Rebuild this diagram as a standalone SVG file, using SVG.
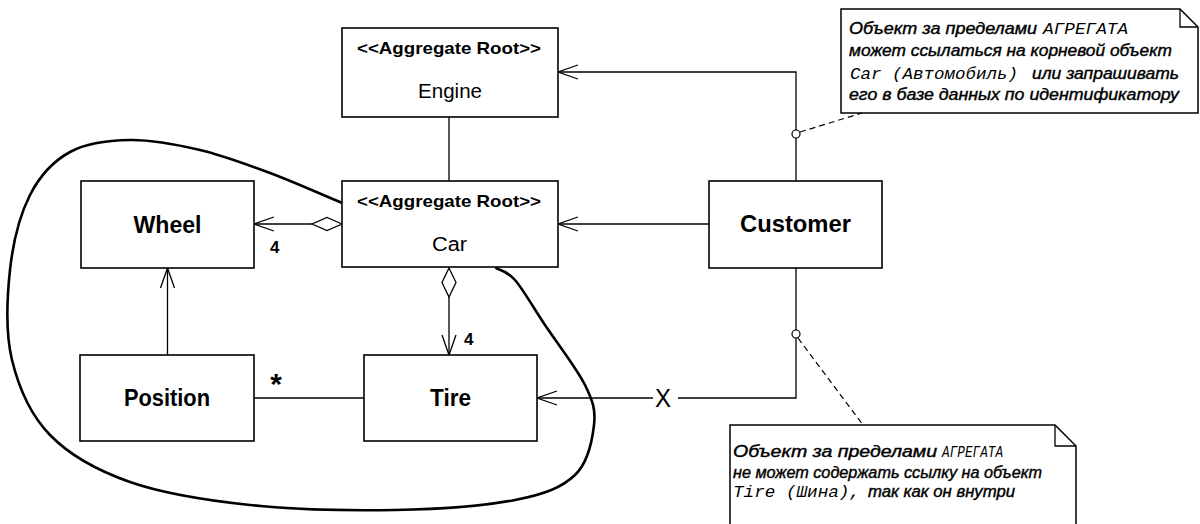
<svg xmlns="http://www.w3.org/2000/svg" width="1200" height="524" viewBox="0 0 1200 524">
<defs>
<marker id="open" markerUnits="userSpaceOnUse" markerWidth="24" markerHeight="18" viewBox="-22 -9 24 18" refX="0" refY="0" orient="auto">
<path d="M-20,-7 L0,0 L-20,7" fill="none" stroke="#000" stroke-width="1.3"/>
</marker>
</defs>
<style>
.box{fill:#fff;stroke:#000;stroke-width:1.6}
.ln{fill:none;stroke:#000;stroke-width:1.3}
.dash{fill:none;stroke:#000;stroke-width:1.2;stroke-dasharray:6 4}
.note{fill:#fff;stroke:#000;stroke-width:1.5}
.st{font-family:"Liberation Sans",Arial,sans-serif;font-weight:bold;font-size:17px;text-anchor:middle}
.nm{font-family:"Liberation Sans",Arial,sans-serif;font-size:20px;text-anchor:middle}
.bd{font-family:"Liberation Sans",Arial,sans-serif;font-weight:bold;font-size:23px;text-anchor:middle}
.mul{font-family:"Liberation Sans",Arial,sans-serif;font-weight:bold;font-size:17px}
.ns{font-family:"Liberation Sans",Arial,sans-serif;font-style:italic;font-size:16px;stroke:#000;stroke-width:0.4}
.nmono{font-family:"Liberation Mono","Courier New",monospace;font-style:italic;font-size:16px}
</style>
<rect width="1200" height="524" fill="#fff"/>

<path id="aggregate-boundary" d="M342,203 C330,198 293.7,181.8 270,173 C246.3,164.2 223.3,155.5 200,150 C176.7,144.5 151.7,139.7 130,140 C108.3,140.3 86.7,142.8 70,152 C53.3,161.2 40,175.3 30,195 C20,214.7 13,242.5 10,270 C7,297.5 5.3,332.5 12,360 C18.7,387.5 30.3,414.7 50,435 C69.7,455.3 96.7,470.3 130,482 C163.3,493.7 205.8,500.3 250,505 C294.2,509.7 350.8,510.8 395,510 C439.2,509.2 485,505.8 515,500 C545,494.2 561.8,487.5 575,475 C588.2,462.5 592.3,440 594,425 C595.7,410 593.2,401.7 585,385 C576.8,368.3 556.7,342.5 545,325 C533.3,307.5 523.2,289.5 515,280 C506.8,270.5 499.2,270 496,268" fill="none" stroke="#000" stroke-width="2.6" stroke-linecap="round"/>

<g id="connectors">
<line class="ln" x1="449" y1="117" x2="449" y2="181"/>
<polyline class="ln" points="796,181 796,72 558,72" marker-end="url(#open)"/>
<line class="ln" x1="709" y1="224" x2="558" y2="224" marker-end="url(#open)"/>
<polyline class="ln" points="796,268 796,398 678,398"/>
<line class="ln" x1="653" y1="398" x2="537" y2="398" marker-end="url(#open)"/>
<text x="663" y="407" font-family="Liberation Sans, Arial, sans-serif" font-size="26" text-anchor="middle" textLength="16" lengthAdjust="spacingAndGlyphs">X</text>
<polygon class="box" style="stroke-width:1.3" points="342,224 327,217.5 312,224 327,230.5"/>
<line class="ln" x1="312" y1="224" x2="254" y2="224" marker-end="url(#open)"/>
<text class="mul" x="270" y="253">4</text>
<polygon class="box" style="stroke-width:1.3" points="449,268 456,282.5 449,297 442,282.5"/>
<line class="ln" x1="449" y1="297" x2="449" y2="355" marker-end="url(#open)"/>
<text class="mul" x="464" y="345">4</text>
<line class="ln" x1="167.5" y1="355" x2="167.5" y2="268" marker-end="url(#open)"/>
<line class="ln" x1="254" y1="398" x2="364" y2="398"/>
<text x="276" y="394" font-family="Liberation Sans, Arial, sans-serif" font-weight="bold" font-size="30" text-anchor="middle">*</text>
<line class="dash" x1="800" y1="132" x2="862" y2="113"/>
<line class="dash" x1="798" y1="338" x2="863" y2="425"/>
<circle cx="796" cy="134" r="4" fill="#fff" stroke="#000" stroke-width="1.2"/>
<circle cx="796" cy="334" r="4" fill="#fff" stroke="#000" stroke-width="1.2"/>
</g>

<g id="engine">
<rect class="box" x="342" y="28" width="216" height="89"/>
<text class="st" x="449" y="54" textLength="184" lengthAdjust="spacingAndGlyphs">&lt;&lt;Aggregate Root&gt;&gt;</text>
<text class="nm" x="450" y="98" textLength="64" lengthAdjust="spacingAndGlyphs">Engine</text>
</g>

<g id="car">
<rect class="box" x="342" y="181" width="216" height="86"/>
<text class="st" x="449" y="207" textLength="184" lengthAdjust="spacingAndGlyphs">&lt;&lt;Aggregate Root&gt;&gt;</text>
<text class="nm" x="449.5" y="251" textLength="35" lengthAdjust="spacingAndGlyphs">Car</text>
</g>

<g id="wheel">
<rect class="box" x="81" y="181" width="173" height="87"/>
<text class="bd" x="167.5" y="233" textLength="68" lengthAdjust="spacingAndGlyphs">Wheel</text>
</g>

<g id="position">
<rect class="box" x="80" y="355" width="174" height="86"/>
<text class="bd" x="167" y="406" textLength="86" lengthAdjust="spacingAndGlyphs">Position</text>
</g>

<g id="tire">
<rect class="box" x="364" y="355" width="173" height="86"/>
<text class="bd" x="450.5" y="406" textLength="41" lengthAdjust="spacingAndGlyphs">Tire</text>
</g>

<g id="customer">
<rect class="box" x="709" y="181" width="173" height="87"/>
<text class="bd" x="795.5" y="232" textLength="111" lengthAdjust="spacingAndGlyphs">Customer</text>
</g>

<g id="note-root">
<path class="note" d="M841,9 H1180 L1198,27 V113 H841 Z"/>
<path class="ln" d="M1180,9 V27 H1198"/>
<text class="ns" x="849" y="34" textLength="188" lengthAdjust="spacingAndGlyphs">Объект за пределами</text>
<text class="nmono" x="1043" y="34" textLength="85" lengthAdjust="spacingAndGlyphs">АГРЕГАТА</text>
<text class="ns" x="849" y="56" textLength="323" lengthAdjust="spacingAndGlyphs">может ссылаться на корневой объект</text>
<text class="nmono" x="850" y="79" textLength="168" lengthAdjust="spacingAndGlyphs">Car (Автомобиль)</text>
<text class="ns" x="1032" y="79" textLength="147" lengthAdjust="spacingAndGlyphs">или запрашивать</text>
<text class="ns" x="849" y="100" textLength="330" lengthAdjust="spacingAndGlyphs">его в базе данных по идентификатору</text>
</g>

<g id="note-tire">
<path class="note" d="M730,530 V425 H1055 L1076,446 V530"/>
<path class="ln" d="M1055,425 V446 H1076"/>
<text class="ns" x="733" y="457" textLength="204" lengthAdjust="spacingAndGlyphs">Объект за пределами</text>
<text class="nmono" x="942" y="457" textLength="61" lengthAdjust="spacingAndGlyphs">АГРЕГАТА</text>
<text class="ns" x="733" y="478" textLength="309" lengthAdjust="spacingAndGlyphs">не может содержать ссылку на объект</text>
<text class="nmono" x="733" y="497" textLength="127" lengthAdjust="spacingAndGlyphs">Tire (Шина),</text>
<text class="ns" x="868" y="497" textLength="147" lengthAdjust="spacingAndGlyphs">так как  он внутри</text>
</g>
</svg>
